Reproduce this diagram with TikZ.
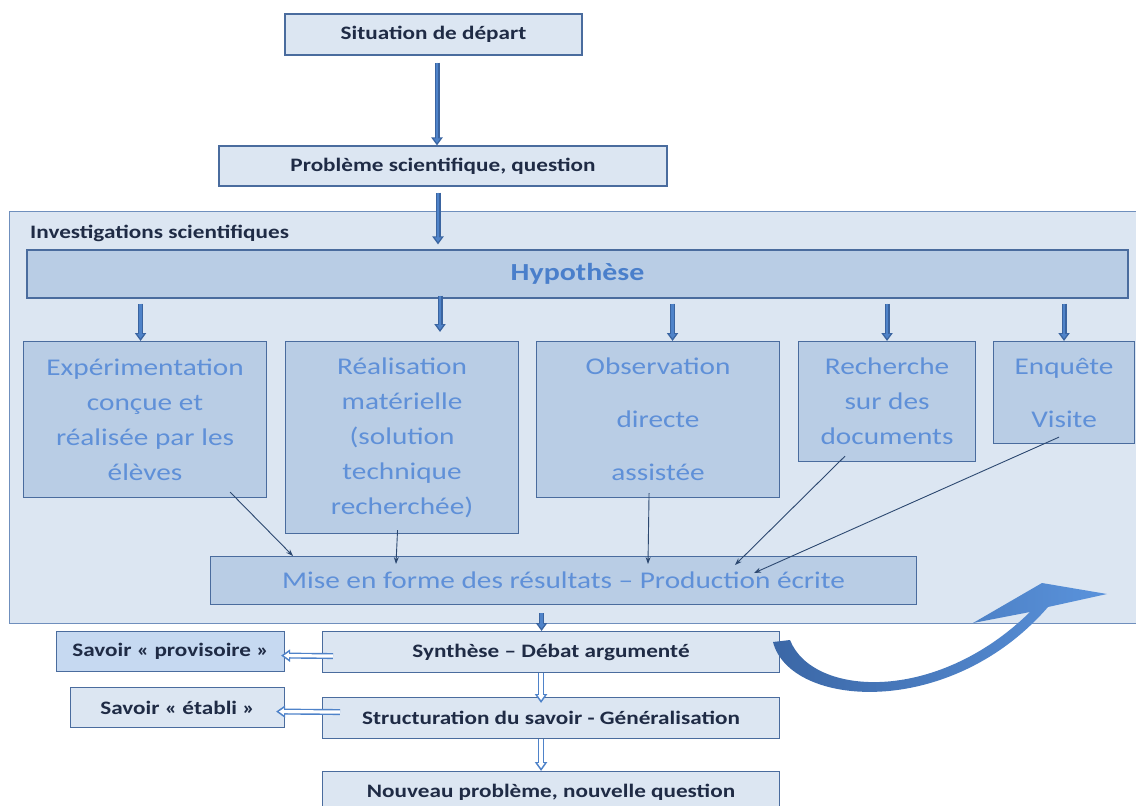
\documentclass[tikz,border=0pt]{standalone}
\usepackage{fontspec}
\setmainfont{Carlito}[FakeStretch=1.22]
\usetikzlibrary{arrows.meta,calc}

\definecolor{paleblue}{HTML}{DCE6F2}
\definecolor{midblue}{HTML}{B9CDE5}
\definecolor{keyblue}{HTML}{C6D9F1}
\definecolor{edgeblue}{HTML}{4A6C9E}
\definecolor{frameedge}{HTML}{6F8FBD}
\definecolor{inktext}{HTML}{1F2B45}
\definecolor{softtext}{HTML}{5F90D8}
\definecolor{hyptext}{HTML}{4A7FCB}
\definecolor{arrowfill}{HTML}{4F83C9}
\definecolor{arrowedge}{HTML}{3A64A0}
\definecolor{thinline}{HTML}{2C4870}
\definecolor{curvedark}{HTML}{3B67A6}
\definecolor{curvelight}{HTML}{5A93DC}

\begin{document}
\begin{tikzpicture}[x=1pt,y=-1pt,
  stage/.style={draw=edgeblue, line width=1.1pt, fill=paleblue, text=inktext,
    font=\bfseries\fontsize{19}{22}\selectfont, inner sep=0pt},
  keybox/.style={stage, fill=keyblue},
  method/.style={draw=edgeblue, line width=1.1pt, fill=midblue, text=softtext,
    font=\fontsize{24}{35}\selectfont, align=center, inner sep=0pt},
  frame/.style={draw=frameedge, line width=1.1pt, fill=paleblue, inner sep=0pt},
  blockarrow/.style={draw=arrowedge, line width=5pt, -{Triangle[width=11pt,length=8pt]},
    postaction={draw=arrowfill, line width=2.6pt, shorten >=2.4pt,
      -{Triangle[width=6.5pt,length=4.8pt]}}},
  hollowarrow/.style={draw=arrowfill, line width=6pt, -{Triangle[width=12pt,length=9pt]},
    postaction={draw=white, line width=3.2pt, shorten >=2.8pt,
      -{Triangle[width=6.5pt,length=5pt]}}},
  feed/.style={draw=thinline, line width=0.9pt, -{Stealth[length=7pt,width=5pt]}}
]
\useasboundingbox (0,0) rectangle (1136,806);

% top of the sequence
\node[stage, minimum width=297, minimum height=41] (sit) at (433.5,34.5) {Situation de départ};
\node[stage, minimum width=448, minimum height=40] (prob) at (443,166) {Problème scientifique, question};

% investigation frame
\node[frame, anchor=north west, minimum width=1140, minimum height=412] (inv) at (9,211) {};
\node[anchor=west, text=inktext, font=\bfseries\fontsize{19}{22}\selectfont, inner sep=0pt]
  (invlabel) at (30,233) {Investigations scientifiques};

\node[method, minimum width=1101, minimum height=48, text=hyptext,
  font=\bfseries\fontsize{24.5}{28}\selectfont] (hyp) at (577.5,274) {Hypothèse};

% investigation methods
\node[method, anchor=north west, minimum width=243, minimum height=156] (exp) at (23,341)
  {Expérimentation\\conçue et\\réalisée par les\\élèves};
\node[method, anchor=north west, minimum width=233, minimum height=192] (real) at (285,341)
  {Réalisation\\matérielle\\(solution\\technique\\recherchée)};
\node[method, anchor=north west, minimum width=243, minimum height=156] (obs) at (536,341)
  {Observation\\[18pt]directe\\[18pt]assistée};
\node[method, anchor=north west, minimum width=177, minimum height=120] (rech) at (798,341)
  {Recherche\\sur des\\documents};
\node[method, anchor=north west, minimum width=141, minimum height=102] (enq) at (993,341)
  {Enquête\\[18pt]Visite};

\node[method, anchor=north west, minimum width=706, minimum height=48] (mise) at (210,556)
  {Mise en forme des résultats – Production écrite};

% lower sequence
\node[stage, anchor=north west, minimum width=457, minimum height=41] (syn) at (322,631)
  {Synthèse – Débat argumenté};
\node[stage, anchor=north west, minimum width=457, minimum height=41] (struc) at (322,697)
  {Structuration du savoir - Généralisation};
\node[stage, anchor=north west, minimum width=457, minimum height=42] (nouv) at (322,771)
  {Nouveau problème, nouvelle question};
\node[keybox, anchor=north west, minimum width=228, minimum height=40] (prov) at (56,631)
  {Savoir « provisoire »};
\node[stage, anchor=north west, minimum width=214, minimum height=40] (etab) at (70,687)
  {Savoir « établi »};

% main block arrows
\draw[blockarrow] ([shift={(3.5,7)}]sit.south) -- ([xshift=-6pt]prob.north);
\draw[blockarrow] ([shift={(-5,6)}]prob.south) -- ([shift={(-5,-5)}]hyp.north -| prob.south);
\draw[blockarrow] ([shift={(-4.5,5)}]hyp.south -| exp.north) -- ([xshift=-4.5pt]exp.north);
\draw[blockarrow] ([shift={(-3,-3)}]hyp.south -| prob.south) -- ([shift={(-3,-9)}]real.north -| prob.south);
\draw[blockarrow] ([shift={(14.5,5)}]hyp.south -| obs.north) -- ([xshift=14.5pt]obs.north);
\draw[blockarrow] ([shift={(0,5)}]hyp.south -| rech.north) -- (rech.north);
\draw[blockarrow] ([shift={(0,5)}]hyp.south -| enq.north) -- (enq.north);
\draw[blockarrow] ([shift={(-22,8)}]mise.south) -- ([xshift=-9.5pt]syn.north);

% feeds into the written production
\draw[feed] ([shift={(-37,-6)}]exp.south east) -- ([shift={(83,0)}]mise.north west);
\draw[feed] ([shift={(-4.5,-4)}]real.south) -- ([shift={(186,8)}]mise.north west);
\draw[feed] ([shift={(-9,-5)}]obs.south) -- ([shift={(438,8)}]mise.north west);
\draw[feed] ([shift={(-42,-6)}]rech.south) -- ([shift={(525,9)}]mise.north west);
\draw[feed] ([shift={(-5,-7)}]enq.south) -- ([shift={(544,17)}]mise.north west);

% hollow arrows
\draw[hollowarrow] ([xshift=-10pt]syn.south) -- ([shift={(-10,6)}]struc.north);
\draw[hollowarrow] ([xshift=-10pt]struc.south) -- ([xshift=-10pt]nouv.north);
\draw[hollowarrow] ([shift={(11,4)}]syn.west) -- ([shift={(-4,4)}]prov.east);
\draw[hollowarrow] ([shift={(18,-6)}]struc.west) -- ([shift={(-9,4)}]etab.east);

% curved return arrow
\path[shading=axis, left color=curvedark, right color=curvelight, shading angle=90]
  (773,642) .. controls (790,708) and (950,720) .. (1048,607)
  -- (1107,594) -- (1042,583) -- (973,623) -- (1030,612)
  .. controls (935,705) and (812,696) .. (790,640) -- cycle;
\end{tikzpicture}
\end{document}
